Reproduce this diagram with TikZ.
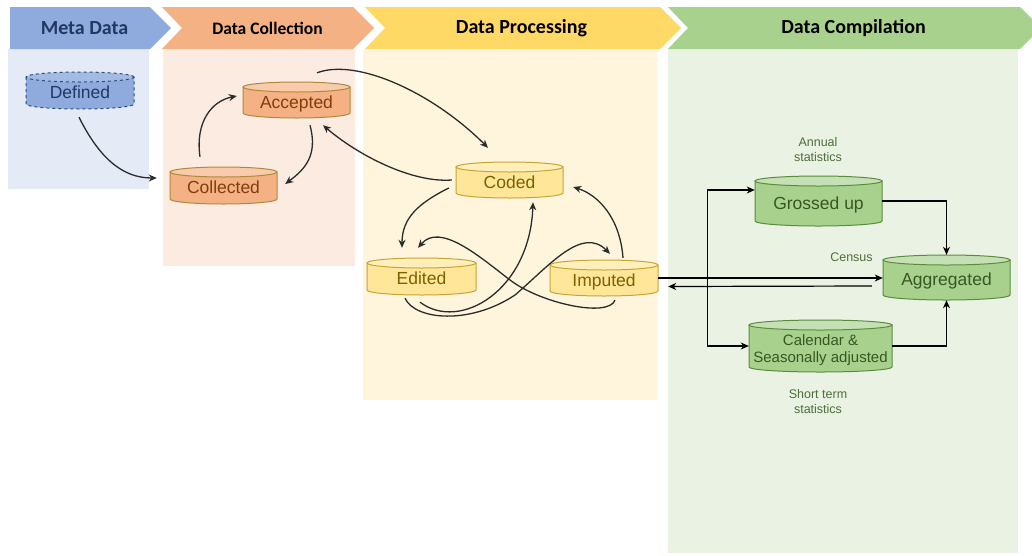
\documentclass[tikz,border=0pt]{standalone}
\usepackage{fontspec}
\setmainfont{Liberation Sans}
\newfontfamily\headfont{Carlito}
\usetikzlibrary{arrows.meta,calc}

% stage colours
\definecolor{metaHead}{HTML}{8FAADC}
\definecolor{metaPanel}{HTML}{E4EAF6}
\definecolor{metaInk}{HTML}{1F3864}
\definecolor{collHead}{HTML}{F4B183}
\definecolor{collPanel}{HTML}{FBEBE1}
\definecolor{procHead}{HTML}{FFD966}
\definecolor{procPanel}{HTML}{FFF5DC}
\definecolor{compHead}{HTML}{A9D18E}
\definecolor{compPanel}{HTML}{E9F2E3}
% store colours
\definecolor{bluBody}{HTML}{8FAADC}
\definecolor{bluTop}{HTML}{A3BBE3}
\definecolor{bluLine}{HTML}{2E4D7F}
\definecolor{bluInk}{HTML}{203864}
\definecolor{oraBody}{HTML}{F4B183}
\definecolor{oraTop}{HTML}{F8CBAD}
\definecolor{oraLine}{HTML}{B08A3A}
\definecolor{oraInk}{HTML}{843C0C}
\definecolor{yelBody}{HTML}{FFE699}
\definecolor{yelTop}{HTML}{FFF0BB}
\definecolor{yelLine}{HTML}{C7A436}
\definecolor{yelInk}{HTML}{7F6000}
\definecolor{grnBody}{HTML}{A9D18E}
\definecolor{grnTop}{HTML}{C5E0B4}
\definecolor{grnLine}{HTML}{5B8C3E}
\definecolor{grnInk}{HTML}{385723}
\definecolor{noteInk}{HTML}{4E6E3A}
\definecolor{wire}{HTML}{2B2B2B}

\tikzset{
  headtxt/.style={font=\headfont\bfseries\fontsize{20}{24}\selectfont, inner sep=0pt},
  drumbox/.style={inner sep=0pt, draw=none},
  storetxt/.style={font=\fontsize{17.5}{20}\selectfont, inner sep=0pt,
    text height=12.8pt, text depth=3.7pt, yshift=-3.75pt},
  blue body/.style={fill=bluBody, draw=bluLine, line width=1pt, dashed},
  blue top/.style={fill=bluTop, draw=bluLine, line width=1pt, dashed},
  blue text/.style={storetxt, text=bluInk},
  orange body/.style={fill=oraBody, draw=oraLine, line width=1pt},
  orange top/.style={fill=oraTop, draw=oraLine, line width=1pt},
  orange text/.style={storetxt, text=oraInk},
  yellow body/.style={fill=yelBody, draw=yelLine, line width=1pt},
  yellow top/.style={fill=yelTop, draw=yelLine, line width=1pt},
  yellow text/.style={storetxt, text=yelInk},
  green body/.style={fill=grnBody, draw=grnLine, line width=1pt},
  green top/.style={fill=grnTop, draw=grnLine, line width=1pt},
  green text/.style={storetxt, text=grnInk},
  greentwo body/.style={green body},
  greentwo top/.style={green top},
  greentwo text/.style={font=\fontsize{15}{17.5}\selectfont, inner sep=0pt,
    align=center, text=grnInk, yshift=-4pt},
  note/.style={font=\fontsize{12.5}{15}\selectfont, align=center, text=noteInk, inner sep=0pt},
  flow/.style={draw=wire, line width=1.3pt, -{Stealth[length=8pt,width=7pt,inset=2.5pt]}},
  elbow/.style={draw=black, line width=1.2pt, -{Stealth[length=8pt,width=7pt,inset=2.5pt]}},
}

% a data store drawn as a flat cylinder: name, left, top, right, bottom, kind, text
\newcommand{\drum}[7]{%
  \pgfmathsetmacro{\drumrx}{(#4-#2)/2}%
  \pgfmathsetmacro{\drumcx}{(#4+#2)/2}%
  \pgfmathsetmacro{\drumcy}{(#3+#5)/2}%
  \pgfmathsetmacro{\drumw}{#4-#2}%
  \pgfmathsetmacro{\drumh}{#5-#3}%
  \filldraw[#6 body] (#2,#3+5) -- (#2,#5-5)
    arc[start angle=180,end angle=360,x radius=\drumrx pt,y radius=5pt] -- (#4,#3+5) -- cycle;
  \filldraw[#6 top] (\drumcx,#3+5) ellipse[x radius=\drumrx pt,y radius=5pt];
  \node[drumbox, minimum width=\drumw pt, minimum height=\drumh pt,
        label={[#6 text]center:{#7}}] (#1) at (\drumcx,\drumcy) {};
}

\begin{document}
\begin{tikzpicture}[x=1pt,y=-1pt]
\useasboundingbox (0,0) rectangle (1032,555);
\clip (0,0) rectangle (1032,555);
\fill[white] (0,0) rectangle (1032,555);

% stage panels
\fill[metaPanel] (8,49) rectangle (149,189);
\fill[collPanel] (163,49) rectangle (355,266);
\fill[procPanel] (363,49) rectangle (657,400);
\fill[compPanel] (668,49) rectangle (1018,553);

% stage banners
\fill[metaHead] (10,7) -- (150,7) -- (171,28) -- (150,49) -- (10,49) -- cycle;
\fill[collHead] (162,7) -- (353,7) -- (374,28) -- (353,49) -- (162,49) -- (182,28) -- cycle;
\fill[procHead] (365,7) -- (660,7) -- (681,28) -- (660,49) -- (365,49) -- (385,28) -- cycle;
\fill[compHead] (668,7) -- (1020,7) -- (1041,28) -- (1020,49) -- (668,49) -- (688,28) -- cycle;

\node[headtxt, text=metaInk] (hmeta) at (84.5,28) {Meta Data};
\node[headtxt, font=\headfont\bfseries\fontsize{17.5}{21}\selectfont] (hcoll) at (267.5,28) {Data Collection};
\node[headtxt] (hproc) at (521.5,28) {Data Processing};
\node[headtxt] (hcomp) at (853.5,28) {Data Compilation};

% data stores
\drum{def}{26}{72}{134}{109}{blue}{Defined}
\drum{acc}{243}{82}{350}{118}{orange}{Accepted}
\drum{col}{170}{167}{277}{204}{orange}{Collected}
\drum{cod}{456}{162}{563}{198}{yellow}{Coded}
\drum{edi}{367}{258}{476}{295}{yellow}{Edited}
\drum{imp}{550}{260}{658}{296}{yellow}{Imputed}
\drum{gro}{755}{176}{882}{226}{green}{Grossed up}
\drum{agg}{883}{255}{1010}{300}{green}{Aggregated}
\drum{cal}{749}{320}{892}{372}{greentwo}{Calendar \&\\Seasonally adjusted}

% notes
\node[note] (annual) at (818,149.5) {Annual\\statistics};
\node[note] (census) at (851.5,257) {Census};
\node[note] (short) at (818,401.5) {Short term\\statistics};

% collection loop
\draw[flow] ($(def.south)+(-1,8)$) .. controls +(20,40) and +(-35,0) .. ($(col.west)+(-13,-7.5)$);
\draw[flow] ($(col.north)+(-23.5,-10)$) .. controls +(-5,-35) and +(-25,5) .. ($(acc.west)+(-6,-4)$);
\draw[flow] ($(acc.south)+(13.5,7)$) .. controls +(8,30) and +(20,-15) .. ($(col.east)+(8,-1.5)$);
\draw[flow] ($(cod.west)+(-4,0)$) .. controls +(-40,3) and +(35,30) .. ($(acc.south)+(26.5,7)$);
\draw[flow] ($(acc.north)+(20.5,-9)$) .. controls +(40,-15) and +(-55,-55) .. ($(cod.north)+(-21.5,-14)$);

% processing loops
\draw[flow] ($(cod.west)+(-7,8)$) .. controls +(-30,15) and +(0,-30) .. ($(edi.north)+(-19.5,-10)$);
\draw[flow] ($(imp.north)+(19,-2)$) .. controls +(-3,-40) and +(25,8) .. ($(cod.east)+(10,7)$);
\draw[flow] ($(edi.south)+(-1.5,7)$) .. controls +(40,30) and +(-3,88) .. ($(cod.south)+(23.5,4)$);
\draw[flow] ($(edi.south)+(-16.5,3)$) .. controls +(10,22) and (470,325) .. (515,295)
  .. controls (550,265) and +(-28,-28) .. ($(imp.north)+(6,-6)$);
\draw[flow] ($(imp.south)+(11,4)$) .. controls +(-7,18) and (540,303) .. (510,280)
  .. controls (480,257) and (440,222) .. ($(edi.north)+(-3.5,-10)$);

% compilation
\coordinate (split) at ($(imp.east)+(49,0)$);
\draw[elbow] (imp.east) -- (imp.east -| agg.west);
\draw[elbow] (split) |- ($(gro.west)+(0,-11)$);
\draw[elbow] (split) |- (cal.west);
\draw[elbow] ($(agg.west)+(-11,8.5)$) -- ($(imp.east)+(10,8.5)$);
\draw[elbow] (gro.east) -| (agg.north);
\draw[elbow] (cal.east) -| (agg.south);
\end{tikzpicture}
\end{document}
